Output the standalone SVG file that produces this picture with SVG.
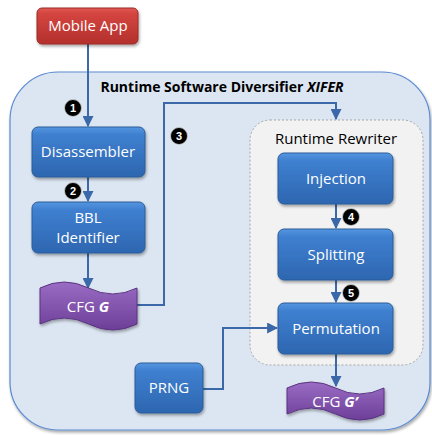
<svg xmlns="http://www.w3.org/2000/svg" width="432" height="435" viewBox="0 0 432 435">
  <defs>
    <linearGradient id="gBlue" x1="0" y1="0" x2="0" y2="1">
      <stop offset="0" stop-color="#5596e0"/>
      <stop offset="0.15" stop-color="#3f80d0"/>
      <stop offset="1" stop-color="#2d66b0"/>
    </linearGradient>
    <linearGradient id="gRed" x1="0" y1="0" x2="0" y2="1">
      <stop offset="0" stop-color="#e25a55"/>
      <stop offset="0.15" stop-color="#d44540"/>
      <stop offset="1" stop-color="#b3302c"/>
    </linearGradient>
    <linearGradient id="gPurple" x1="0" y1="0" x2="0" y2="1">
      <stop offset="0" stop-color="#9a6cc4"/>
      <stop offset="1" stop-color="#6d3f98"/>
    </linearGradient>
    <filter id="shadow" x="-20%" y="-20%" width="140%" height="150%">
      <feGaussianBlur in="SourceAlpha" stdDeviation="1.5"/>
      <feOffset dx="1" dy="2" result="b"/>
      <feComponentTransfer><feFuncA type="linear" slope="0.35"/></feComponentTransfer>
      <feMerge><feMergeNode/><feMergeNode in="SourceGraphic"/></feMerge>
    </filter>
    <marker id="arrow" viewBox="0 0 10 10" refX="9" refY="5" markerWidth="5.5" markerHeight="5.5" orient="auto">
      <path d="M0,0 L10,5 L0,10 Z" fill="#3a68a8"/>
    </marker>
  </defs>
  <style>
    .box { fill: url(#gBlue); stroke: #2b5c98; stroke-width: 1; filter: url(#shadow); }
    .lbl { font-family: "Open Sans", "Liberation Sans", sans-serif; font-size: 15px; fill: #ffffff; text-anchor: middle; }
    .conn { fill: none; stroke: #3a68a8; stroke-width: 2; }
    .badge circle { fill: #000000; stroke: #d0d0d0; stroke-width: 0.8; }
    .badge text { font-family: "Liberation Sans", sans-serif; font-size: 11px; font-weight: bold; fill: #ffffff; text-anchor: middle; }
    .tape { fill: url(#gPurple); stroke: #5a3380; stroke-width: 1; filter: url(#shadow); }
  </style>

  <!-- outer diversifier container -->
  <g id="diversifier">
    <rect x="10" y="72" width="420" height="358" rx="48" ry="48" fill="#dce6f2" stroke="#5b8bd0" stroke-width="1.2" filter="url(#shadow)"/>
    <text x="222" y="92" font-family="Open Sans, Liberation Sans, sans-serif" font-size="14" font-weight="bold" fill="#000" text-anchor="middle">Runtime Software Diversifier <tspan font-style="italic">XIFER</tspan></text>
  </g>

  <!-- runtime rewriter container -->
  <g id="rewriter">
    <rect x="250" y="120" width="173" height="245" rx="20" ry="20" fill="#f2f2f2" stroke="#a6a6a6" stroke-width="1" stroke-dasharray="2 2"/>
    <text x="336" y="144" font-family="Open Sans, Liberation Sans, sans-serif" font-size="15" fill="#000" text-anchor="middle">Runtime Rewriter</text>
  </g>

  <!-- connectors -->
  <g id="connectors">
    <path class="conn" d="M88,44 V126" marker-end="url(#arrow)"/>
    <path class="conn" d="M88,177 V201" marker-end="url(#arrow)"/>
    <path class="conn" d="M88,253 V288" marker-end="url(#arrow)"/>
    <path class="conn" d="M137,305 H164 V103 H336 V119" marker-end="url(#arrow)"/>
    <path class="conn" d="M336,204 V228" marker-end="url(#arrow)"/>
    <path class="conn" d="M336,280 V302" marker-end="url(#arrow)"/>
    <path class="conn" d="M203,389 H223 V328 H277" marker-end="url(#arrow)"/>
    <path class="conn" d="M336,354 V386" marker-end="url(#arrow)"/>
  </g>

  <g id="mobile-app">
    <rect x="37" y="8" width="101" height="36" rx="5" fill="url(#gRed)" stroke="#9a2a27" stroke-width="1" filter="url(#shadow)"/>
    <text class="lbl" x="88" y="31">Mobile App</text>
  </g>

  <g id="disassembler">
    <rect class="box" x="32" y="127" width="113" height="50" rx="6"/>
    <text class="lbl" x="88" y="157">Disassembler</text>
  </g>

  <g id="bbl-identifier">
    <rect class="box" x="32" y="202" width="113" height="51" rx="6"/>
    <text class="lbl" x="88" y="223">BBL</text>
    <text class="lbl" x="88" y="243">Identifier</text>
  </g>

  <g id="cfg-g">
    <path class="tape" d="M40,288 Q64.25,276 88.5,288 T137,288 L137,324 Q112.75,336 88.5,324 T40,324 Z"/>
    <text class="lbl" x="88" y="312">CFG <tspan font-weight="bold" font-style="italic">G</tspan></text>
  </g>

  <g id="injection">
    <rect class="box" x="278" y="153" width="115" height="51" rx="6"/>
    <text class="lbl" x="336" y="184">Injection</text>
  </g>

  <g id="splitting">
    <rect class="box" x="278" y="229" width="115" height="51" rx="6"/>
    <text class="lbl" x="336" y="260">Splitting</text>
  </g>

  <g id="permutation">
    <rect class="box" x="278" y="303" width="115" height="51" rx="6"/>
    <text class="lbl" x="336" y="334">Permutation</text>
  </g>

  <g id="prng">
    <rect class="box" x="135" y="363" width="68" height="50" rx="6"/>
    <text class="lbl" x="169" y="393">PRNG</text>
  </g>

  <g id="cfg-g-prime">
    <path class="tape" d="M287,388 Q311.25,376 335.5,388 T384,388 L384,414 Q359.75,426 335.5,414 T287,414 Z"/>
    <text class="lbl" x="335" y="407">CFG <tspan font-weight="bold" font-style="italic">G’</tspan></text>
  </g>

  <!-- step badges -->
  <g id="badge-1" class="badge"><circle cx="73" cy="108" r="8.5"/><text x="73" y="112">1</text></g>
  <g id="badge-2" class="badge"><circle cx="73" cy="191" r="8.5"/><text x="73" y="195">2</text></g>
  <g id="badge-3" class="badge"><circle cx="179" cy="136" r="8.5"/><text x="179" y="140">3</text></g>
  <g id="badge-4" class="badge"><circle cx="351" cy="217" r="8.5"/><text x="351" y="221">4</text></g>
  <g id="badge-5" class="badge"><circle cx="351" cy="293" r="8.5"/><text x="351" y="297">5</text></g>
</svg>
